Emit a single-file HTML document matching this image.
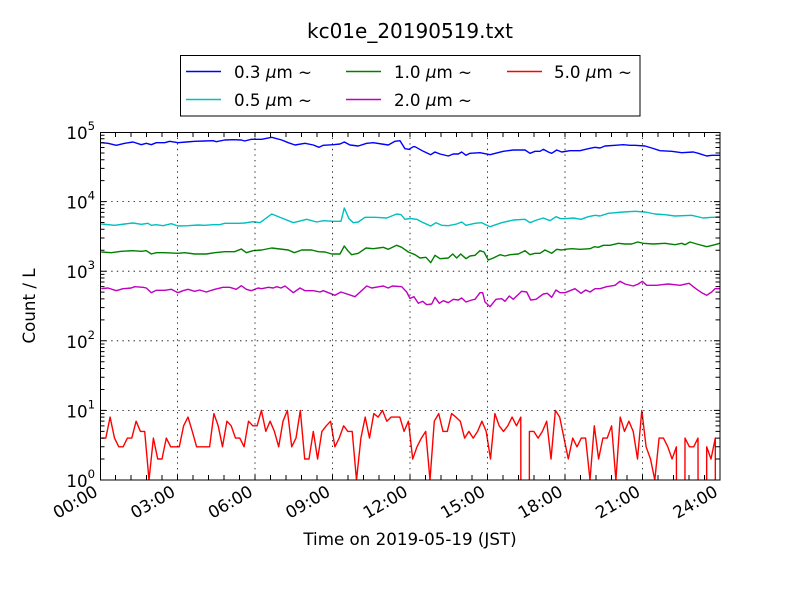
<!DOCTYPE html>
<html>
<head>
<meta charset="utf-8">
<style>
html,body{margin:0;padding:0;background:#fff;width:800px;height:600px;overflow:hidden;}
svg{display:block;overflow:hidden;}
text{font-family:"DejaVu Sans","Liberation Sans",sans-serif;fill:#000;}
</style>
</head>
<body>
<svg width="800" height="600" viewBox="0 0 800 600" xmlns="http://www.w3.org/2000/svg">
<defs>
<clipPath id="ax"><rect x="100" y="132" width="620" height="348"/></clipPath>
</defs>
<rect x="0" y="0" width="800" height="600" fill="#fff"/>

<!-- title -->
<text x="410" y="38" font-size="20" text-anchor="middle">kc01e_20190519.txt</text>

<!-- series -->
<g clip-path="url(#ax)" fill="none" stroke-width="1.4" stroke-linejoin="round">
<polyline stroke="#0000ff" points="101.3,142.7 108,143.3 116.3,145.3 124.7,143.3 133,142 141.3,144.7 146.3,143.3 151.3,144.7 156.3,142.7 164.7,142.7 169.7,141.3 178,142.7 186.3,142 194.7,141.3 204.7,141 213,140.7 216.3,141.7 224.7,140 233,139.7 241.3,140 244.7,141 251.3,139.3 255,139.3 261.7,139.3 271.7,137.3 281.7,140 288.3,142.7 295,145 305,143.3 313.3,145 319,147.3 323.3,145.3 333.3,144.7 340,144 344.3,142 350,145 358.3,146 366.7,143.3 373.3,142.7 381.7,144 388.3,145 395,141.3 400,140.7 405,148.7 409,149.3 413.3,146.7 415,146.7 423.3,151.3 430.7,154.7 435,152 440,154 448.3,156 453.3,154 458.3,154 461.7,152 466,155.3 470,153.3 480,152.7 490,154.7 503.3,151.3 513.3,150 525,150 530,153.3 535,151.3 540,151.3 543.3,149.3 548.3,152 551.7,153.3 556.7,150 561.7,152 570,150.7 580,150.7 588.3,148.7 595,147.3 600,148 605,146 615,145.3 623.3,144.7 630,145.3 635,145.3 645,146 651.7,148 660,150.7 671.7,151.3 681.7,152.7 693.3,152 698.3,153.3 706.7,156 711.7,155.3 719.6,155.3"/>
<polyline stroke="#00bfbf" points="101.3,224 114.7,225.3 124.7,224 133,223 141.3,224.3 148,223.3 151.3,225.3 156.3,224.7 163,225.7 171.3,223.7 178,226 188,225.7 198,225 204.7,225.3 213,224.7 219.7,224.7 224.7,223.3 238,223.3 244.7,223 253,221.7 260,222.7 271.7,214 281.7,218 293.3,222.7 306.7,219.3 316.7,222 323.3,220.7 333.3,221.3 341,221.3 344.3,208 349,218.7 353.3,222.7 358.3,222 365,217.3 375,217.3 386.7,218 396.7,214 401,214.7 405,219.3 410,218.5 416.7,219.3 423.3,222.7 430.7,226 436,222.7 441.7,225.3 448.3,225.7 456.7,224 461.7,222 466,225.3 475,223.3 481.7,222.7 490,226.7 501.7,222.7 513.3,220 525,219.3 530,222.7 536.7,220 543.3,218 550,220.7 556,216.7 560.7,218.7 565,218.7 573.3,218 581,219.3 588.3,216.7 595,215.3 600,216 608.3,213.3 623.3,212 635,211.3 645,212 655,214 665,214.7 675,216 691.7,215.3 703.3,218 711.7,217.3 719.6,217.3"/>
<polyline stroke="#008000" points="101.3,252 111.3,252.7 121.3,251.3 133,250.7 141.3,251.3 146.3,250.7 151.3,254 156.3,252.7 164.7,252.7 178,253.3 184.7,252.7 194.7,254 206.3,254 214.7,252.7 224.7,251.7 234.7,251.7 241.3,249 246.3,252.7 253,250.7 261.7,250 271.7,248 288.3,250 294.3,252.7 301.7,250 311.7,250 318.3,251.7 325,252 331.7,254 340,254 344.3,246 348.3,251.3 351.7,254.7 358.3,253.3 366,248 373.3,248.7 383.3,247.3 388.3,249.3 396.7,245.3 401.7,247.3 408.3,252 415,254.7 420,258 426,257.3 430.7,262.7 435,255.3 440,258.7 448.3,258 452.7,254 456.7,258 460.7,254 466,258.7 470,256 475,255.3 480,250.7 484,252 488.3,260 493.3,258 500,254.7 505,256 510,254.7 518.3,254 525,250.7 530,254.7 535,253.3 540,253.3 545,250 551.7,253.3 556.7,249.3 561.7,250 565,249.3 571.7,248.7 580,249.3 590,248.7 594.3,246.7 598.3,247.3 603.3,245.3 610,245.3 618.3,243.3 625,244 631.7,244 637.7,242 643.3,243.3 653.3,244 665,243.3 675,244.7 681.7,243.3 685,244.7 690,242 696.7,244 706.7,246.7 715,244.7 719.6,243.3"/>
<polyline stroke="#bf00bf" points="101.3,288.7 108,288 116.3,290.7 123,288.7 131.3,288 134.7,286.7 143,287.3 146.3,288 151.3,292.7 156.3,290.3 164.7,290.3 171.3,289.3 178,292.7 183,290.7 188,289.3 194.7,291.3 199.7,290 206.3,292 214.7,289.3 223,287.3 229.7,287.3 236.3,289.3 241.3,285.7 246.3,289.3 251.3,290.7 258,288 261.7,288.7 268.3,287.3 273.3,288 276.7,286.7 281,288 285,286 293.3,292.7 300,288 305,290.7 313.3,290.7 320,292 323.3,290.7 335,295.3 341,292 355,296.7 366.7,286 371.7,288 383.3,286 388.3,288 392.3,286 401.7,286.7 406.7,292 410,298.5 414,296.7 418.3,303.3 422.7,301.3 426.7,304.7 431.7,304 435,297.3 439.3,303.3 443.3,300.7 448.3,302.7 453.3,299.3 458.3,300 461.7,298 466,302 471.7,300 475,299.3 480,292.7 482.7,292.7 485,302 490,306.7 496,299.3 501.7,298.7 505,301.3 509.3,296 513.3,299.3 521.7,291.3 526.7,292 530.7,300 536,299.3 543.3,294 547.3,293.3 551.7,297.3 556,290 560,292.7 565,292.7 570,290.7 575,288.7 581,293.3 585.7,290 590,292 595,288.7 600,288.7 606.7,286.7 615,285.3 620,281.3 625,284 633.3,286 638.3,284 642.3,281.3 646.7,285.3 656.7,285.3 661.7,284.7 668.3,284 680,285.3 689,283.3 696.7,289.3 701.7,292.7 706.7,295.3 711.7,292 715,288.7 719.6,288.7"/>
<polyline stroke="#ff0000" points="101.5,438.1 105.8,438.1 110.1,417.1 114.5,438.1 118.8,446.8 123.1,446.8 127.4,438.1 131.8,438.1 136.1,421.2 140.4,431.4 144.7,431.4 149.0,480 153.4,438.1 157.7,459 162.0,459 166.3,438.1 170.7,446.8 175.0,446.8 179.3,446.8 183.6,425.8 188.0,417.1 192.3,431.4 196.6,446.8 200.9,446.8 205.2,446.8 209.6,446.8 213.9,413.6 218.2,425.8 222.5,446.8 226.9,421.2 231.2,425.8 235.5,438.1 239.8,438.1 244.1,446.8 248.5,421.2 252.8,425.8 257.1,425.8 261.4,410.4 265.8,431.4 270.1,421.2 274.4,431.4 278.7,446.8 283.0,421.2 287.4,410.4 291.7,446.8 296.0,438.1 300.3,410.4 304.7,459 309.0,459 313.3,431.4 317.6,459 321.9,431.4 326.3,425.8 330.6,421.2 334.9,446.8 339.2,438.1 343.6,425.8 347.9,431.4 352.2,431.4 356.5,480 360.9,438.1 365.2,417.1 369.5,438.1 373.8,413.6 378.1,417.1 382.5,410.4 386.8,421.2 391.1,417.1 395.4,417.1 399.8,417.1 404.1,431.4 408.4,421.2 412.7,459 417.0,446.8 421.4,438.1 425.7,431.4 430.0,480 434.3,421.2 438.7,413.6 443.0,431.4 447.3,431.4 451.6,413.6 455.9,417.1 460.3,421.2 464.6,438.1 468.9,431.4 473.2,438.1 477.6,431.4 481.9,421.2 486.2,431.4 490.5,459 494.9,413.6 499.2,425.8 503.5,431.4 507.8,425.8 512.1,417.1 516.5,425.8 520.8,417.1 520.85,485 529.35,485 529.4,431.4 533.8,431.4 538.1,438.1 542.4,431.4 546.7,421.2 551.0,459 555.4,410.4 559.7,417.1 564.0,438.1 568.3,459 572.7,438.1 577.0,446.8 581.3,438.1 585.6,438.1 590.0,480 594.3,425.8 598.6,459 602.9,438.1 607.2,438.1 611.6,425.8 615.9,480 620.2,417.1 624.5,431.4 628.9,421.2 633.2,431.4 637.5,459 641.8,410.4 646.1,446.8 650.5,459 654.8,480 659.1,438.1 663.4,438.1 667.8,446.8 672.1,459 676.4,446.8 676.45,485 684.95,485 685.0,438.1 689.4,446.8 693.7,446.8 698.0,438.1 698.05,485 706.65,485 706.7,446.8 711.0,459 715.3,438.1 715.35,485 719.6,485"/>
</g>

<!-- grid -->
<g stroke="#000" stroke-width="0.8" stroke-dasharray="1.4,4.2" fill="none">
<path d="M177.5 132V480 M255 132V480 M332.5 132V480 M410 132V480 M487.5 132V480 M565 132V480 M642.5 132V480"/>
<path d="M100 201.6H720 M100 271.2H720 M100 340.8H720 M100 410.4H720"/>
</g>

<!-- frame -->
<rect x="100.5" y="132.5" width="619.5" height="347.5" fill="none" stroke="#000" stroke-width="1"/>

<!-- x ticks -->
<g stroke="#000" stroke-width="1" fill="none">
<path d="M115.5 480v-5M115.5 132v5M131 480v-5M131 132v5M146.5 480v-5M146.5 132v5M162 480v-5M162 132v5M177.5 480v-5M177.5 132v5M193 480v-5M193 132v5M208.5 480v-5M208.5 132v5M224 480v-5M224 132v5M239.5 480v-5M239.5 132v5M255 480v-5M255 132v5M270.5 480v-5M270.5 132v5M286 480v-5M286 132v5M301.5 480v-5M301.5 132v5M317 480v-5M317 132v5M332.5 480v-5M332.5 132v5M348 480v-5M348 132v5M363.5 480v-5M363.5 132v5M379 480v-5M379 132v5M394.5 480v-5M394.5 132v5M410 480v-5M410 132v5M425.5 480v-5M425.5 132v5M441 480v-5M441 132v5M456.5 480v-5M456.5 132v5M472 480v-5M472 132v5M487.5 480v-5M487.5 132v5M503 480v-5M503 132v5M518.5 480v-5M518.5 132v5M534 480v-5M534 132v5M549.5 480v-5M549.5 132v5M565 480v-5M565 132v5M580.5 480v-5M580.5 132v5M596 480v-5M596 132v5M611.5 480v-5M611.5 132v5M627 480v-5M627 132v5M642.5 480v-5M642.5 132v5M658 480v-5M658 132v5M673.5 480v-5M673.5 132v5M689 480v-5M689 132v5M704.5 480v-5M704.5 132v5"/>
<!-- y major -->
<path d="M100 410.4h6M720 410.4h-6M100 340.8h6M720 340.8h-6M100 271.2h6M720 271.2h-6M100 201.6h6M720 201.6h-6"/>
<!-- y minor -->
<path d="M100 459.05h4.5M720 459.05h-4.5M100 446.8h4.5M720 446.8h-4.5M100 438.1h4.5M720 438.1h-4.5M100 431.35h4.5M720 431.35h-4.5M100 425.84h4.5M720 425.84h-4.5M100 421.18h4.5M720 421.18h-4.5M100 417.15h4.5M720 417.15h-4.5M100 413.59h4.5M720 413.59h-4.5
M100 389.45h4.5M720 389.45h-4.5M100 377.2h4.5M720 377.2h-4.5M100 368.5h4.5M720 368.5h-4.5M100 361.75h4.5M720 361.75h-4.5M100 356.24h4.5M720 356.24h-4.5M100 351.58h4.5M720 351.58h-4.5M100 347.55h4.5M720 347.55h-4.5M100 343.99h4.5M720 343.99h-4.5
M100 319.85h4.5M720 319.85h-4.5M100 307.6h4.5M720 307.6h-4.5M100 298.9h4.5M720 298.9h-4.5M100 292.15h4.5M720 292.15h-4.5M100 286.64h4.5M720 286.64h-4.5M100 281.98h4.5M720 281.98h-4.5M100 277.95h4.5M720 277.95h-4.5M100 274.39h4.5M720 274.39h-4.5
M100 250.25h4.5M720 250.25h-4.5M100 238h4.5M720 238h-4.5M100 229.3h4.5M720 229.3h-4.5M100 222.55h4.5M720 222.55h-4.5M100 217.04h4.5M720 217.04h-4.5M100 212.38h4.5M720 212.38h-4.5M100 208.35h4.5M720 208.35h-4.5M100 204.79h4.5M720 204.79h-4.5
M100 180.65h4.5M720 180.65h-4.5M100 168.4h4.5M720 168.4h-4.5M100 159.7h4.5M720 159.7h-4.5M100 152.95h4.5M720 152.95h-4.5M100 147.44h4.5M720 147.44h-4.5M100 142.78h4.5M720 142.78h-4.5M100 138.75h4.5M720 138.75h-4.5M100 135.19h4.5M720 135.19h-4.5"/>
</g>

<!-- y tick labels -->
<g font-size="16.7" text-anchor="end">
<text x="95" y="139">10<tspan dy="-9" font-size="11.7">5</tspan></text>
<text x="95" y="208.6">10<tspan dy="-9" font-size="11.7">4</tspan></text>
<text x="95" y="278.2">10<tspan dy="-9" font-size="11.7">3</tspan></text>
<text x="95" y="347.8">10<tspan dy="-9" font-size="11.7">2</tspan></text>
<text x="95" y="417.4">10<tspan dy="-9" font-size="11.7">1</tspan></text>
<text x="95" y="487">10<tspan dy="-9" font-size="11.7">0</tspan></text>
</g>

<!-- x tick labels -->
<g font-size="16.7" text-anchor="end">
<text transform="translate(99,495) rotate(-30)">00:00</text>
<text transform="translate(176.5,495) rotate(-30)">03:00</text>
<text transform="translate(254,495) rotate(-30)">06:00</text>
<text transform="translate(331.5,495) rotate(-30)">09:00</text>
<text transform="translate(409,495) rotate(-30)">12:00</text>
<text transform="translate(486.5,495) rotate(-30)">15:00</text>
<text transform="translate(564,495) rotate(-30)">18:00</text>
<text transform="translate(641.5,495) rotate(-30)">21:00</text>
<text transform="translate(719,495) rotate(-30)">24:00</text>
</g>

<!-- axis labels -->
<text x="410" y="545" font-size="16.7" text-anchor="middle">Time on 2019-05-19 (JST)</text>
<text transform="translate(35,306) rotate(-90)" font-size="16.7" text-anchor="middle">Count / L</text>

<!-- legend -->
<rect x="180.5" y="55.5" width="459.5" height="60.5" fill="#fff" stroke="#000" stroke-width="1"/>
<g stroke-width="1.4" fill="none">
<path d="M186 71.5H221" stroke="#0000ff"/>
<path d="M186 99.5H221" stroke="#00bfbf"/>
<path d="M346 71.5H381" stroke="#008000"/>
<path d="M346 99.5H381" stroke="#bf00bf"/>
<path d="M507 71.5H542" stroke="#ff0000"/>
</g>
<g font-size="16.7" style="white-space:pre">
<text x="234" y="78">0.3 <tspan font-style="italic">μ</tspan>m ∼</text>
<text x="234" y="106">0.5 <tspan font-style="italic">μ</tspan>m ∼</text>
<text x="394" y="78">1.0 <tspan font-style="italic">μ</tspan>m ∼</text>
<text x="394" y="106">2.0 <tspan font-style="italic">μ</tspan>m ∼</text>
<text x="554" y="78">5.0 <tspan font-style="italic">μ</tspan>m ∼</text>
</g>
</svg>
</body>
</html>
